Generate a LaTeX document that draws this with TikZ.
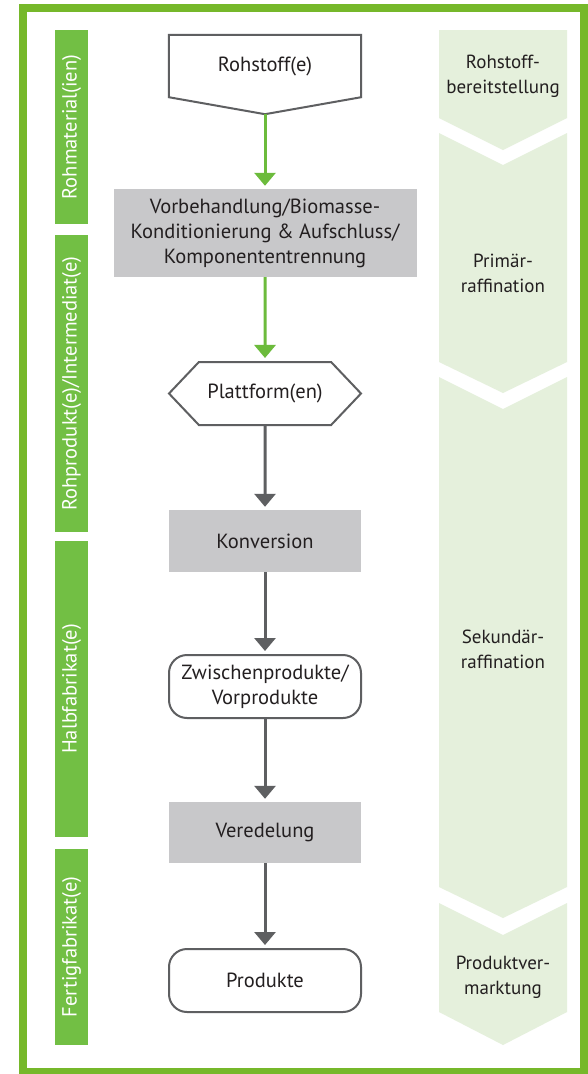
\documentclass[tikz,border=0pt]{standalone}
\usepackage{fontspec}
\setmainfont{PT Sans}
\usetikzlibrary{arrows.meta,shapes.symbols,calc}

\definecolor{framegreen}{HTML}{76B82A}
\definecolor{bargreen}{HTML}{72BF44}
\definecolor{phasegreen}{HTML}{E5F0DC}
\definecolor{boxgray}{HTML}{C8C8CA}
\definecolor{linegray}{HTML}{5E5F61}
\definecolor{arrowgreen}{HTML}{6CBB3C}
\definecolor{textgray}{HTML}{231F20}

\tikzset{
  flowtext/.style={text=textgray, align=center, inner sep=0pt,
    font=\fontsize{20.5}{25}\selectfont},
  procbox/.style={flowtext, fill=boxgray},
  outline/.style={draw=linegray, line width=2pt},
  roundbox/.style={flowtext, outline, rounded corners=18pt,
    minimum width=192pt, minimum height=63pt},
  hexbox/.style={flowtext, outline, signal, signal to=west and east,
    signal pointer angle=93, minimum width=192pt, minimum height=63pt},
  bar/.style={fill=bargreen, text=white, rotate=90, inner sep=0pt,
    minimum height=33pt, font=\fontsize{20.5}{24}\selectfont},
  phaselabel/.style={text=textgray, align=center, inner sep=0pt,
    font=\fontsize{19}{25}\selectfont},
  greenflow/.style={arrowgreen, line width=3pt, shorten >=3pt,
    -{Triangle[width=21pt,length=13pt]}},
  grayflow/.style={greenflow, linegray}
}

\begin{document}
\begin{tikzpicture}[x=1pt,y=-1pt]
\useasboundingbox (0,0) rectangle (587,1074);
\fill[white] (0,0) rectangle (587,1074);
\draw[framegreen, line width=8pt] (23,8) rectangle (583.5,1072);

% phases on the right
\fill[phasegreen] (439,30) -- (567,30) -- (567,118) -- (503,150) -- (439,118) -- cycle;
\fill[phasegreen] (439,133) -- (503,165) -- (567,133) -- (567,362) -- (503,393) -- (439,362) -- cycle;
\fill[phasegreen] (439,377) -- (503,409) -- (567,377) -- (567,887) -- (503,918) -- (439,887) -- cycle;
\fill[phasegreen] (439,903) -- (503,935) -- (567,903) -- (567,1012) -- (503,1045) -- (439,1012) -- cycle;

\node[phaselabel] (supply) at (503,76) {Rohstoff-\\bereitstellung};
\node[phaselabel] (primary) at (503,273) {Primär-\\raffination};
\node[phaselabel] (secondary) at (503,649) {Sekundär-\\raffination};
\node[phaselabel] (market) at (503,977) {Produktver-\\marktung};

% bars on the left
\node[bar, minimum width=194pt] (raw) at (71.5,127) {Rohmaterial(ien)};
\node[bar, minimum width=297pt] (crude) at (71.5,383.5) {Rohprodukt(e)/Intermediat(e)};
\node[bar, minimum width=296pt] (semi) at (71.5,689) {Halbfabrikat(e)};
\node[bar, minimum width=196pt] (final) at (71.5,947) {Fertigfabrikat(e)};

% flow
\node[flowtext, minimum width=192pt, minimum height=62pt] (roh) at (265,66) {Rohstoff(e)};
\coordinate (rohtip) at ($(roh.south)+(0,17)$);
\draw[outline] (roh.north west) -- (roh.north east) -- (roh.south east)
  -- (rohtip) -- (roh.south west) -- cycle;
\node[procbox, minimum width=303pt, minimum height=88pt] (pre) at (265,233)
  {Vorbehandlung/Biomasse-\\Konditionierung \& Aufschluss/\\Komponententrennung};
\node[hexbox] (plat) at (265,393.5) {Plattform(en)};
\node[procbox, minimum width=192pt, minimum height=62pt] (conv) at (265,541) {Konversion};
\node[roundbox] (inter) at (265,686.5) {Zwischenprodukte/\\Vorprodukte};
\node[procbox, minimum width=192pt, minimum height=61pt] (refine) at (265,832.5) {Veredelung};
\node[roundbox] (prod) at (265,980.5) {Produkte};

\draw[greenflow] (rohtip) -- (pre);
\draw[greenflow] (pre) -- (plat);
\draw[grayflow] (plat) -- (conv);
\draw[grayflow] (conv) -- (inter);
\draw[grayflow] (inter) -- (refine);
\draw[grayflow] (refine) -- (prod);
\end{tikzpicture}
\end{document}
